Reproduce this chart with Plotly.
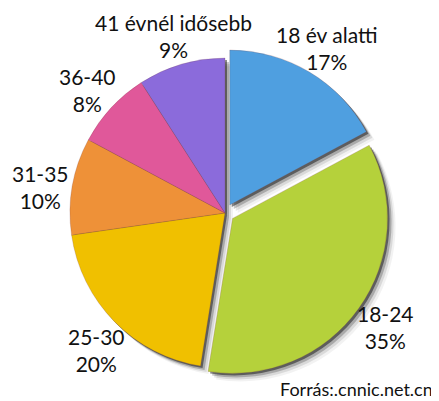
import plotly.graph_objects as go

labels = ["18 év alatti", "18-24", "25-30", "31-35", "36-40", "41 évnél idősebb"]
values = [17, 35, 20, 10, 8, 9]
pulls = [0.06, 0.06, 0, 0, 0, 0]
colors = ["#4F9FE0", "#B5D13B", "#F0C000", "#EE9138", "#E0589A", "#8B6BDB"]
source = "Forrás:.cnnic.net.cn"

# the page body has an 8px margin; lay out in window pixels and compensate
M = 8
W, H = 439 - M, 401 - M
cx, cy, r = 225 - M, 213 - M, 155
R = r * (1 + max(pulls))

def px(x, y):
    return (x - M) / W, 1 - (y - M) / H

def dom(dx=0, dy=0):
    x0 = (cx + dx - R) / W
    x1 = (cx + dx + R) / W
    yb = H - (cy + dy)
    return dict(x=[x0, x1], y=[(yb - R) / H, (yb + R) / H])

fig = go.Figure()
for off, a in [(8, 0.05), (6, 0.1), (4, 0.22), (2, 0.45)]:
    fig.add_trace(go.Pie(
        labels=labels, values=values, pull=pulls, sort=False,
        direction="clockwise", rotation=0, textinfo="none", hoverinfo="skip",
        marker=dict(colors=[f"rgba(0,0,0,{a})"] * len(values), line=dict(width=0)),
        domain=dom(off, off), showlegend=False,
    ))
fig.add_trace(go.Pie(
    labels=labels, values=values, pull=pulls, sort=False,
    direction="clockwise", rotation=0, textinfo="none",
    marker=dict(colors=colors, line=dict(width=0.6, color="rgba(120,60,60,0.35)")),
    domain=dom(), showlegend=False,
))

label_pos = [(327, 48), (385, 327), (96, 350), (40, 187), (87, 90), (173, 36)]
for lab, v, (x, y) in zip(labels, values, label_pos):
    ax, ay = px(x, y)
    fig.add_annotation(x=ax, y=ay, xref="paper", yref="paper",
                       text=f"{lab}<br>{v}%", showarrow=False,
                       font=dict(family="Lato", size=21, color="#111"),
                       xanchor="center", yanchor="middle", align="center")
sx, sy = px(436, 389)
fig.add_annotation(x=sx, y=sy, xref="paper", yref="paper",
                   text=source, showarrow=False,
                   font=dict(family="Lato", size=18, color="#111"),
                   xanchor="right", yanchor="middle", xshift=-1)

fig.update_layout(width=W, height=H, margin=dict(l=0, r=0, t=0, b=0),
                  paper_bgcolor="white", plot_bgcolor="white")
fig.write_html("out.html")
